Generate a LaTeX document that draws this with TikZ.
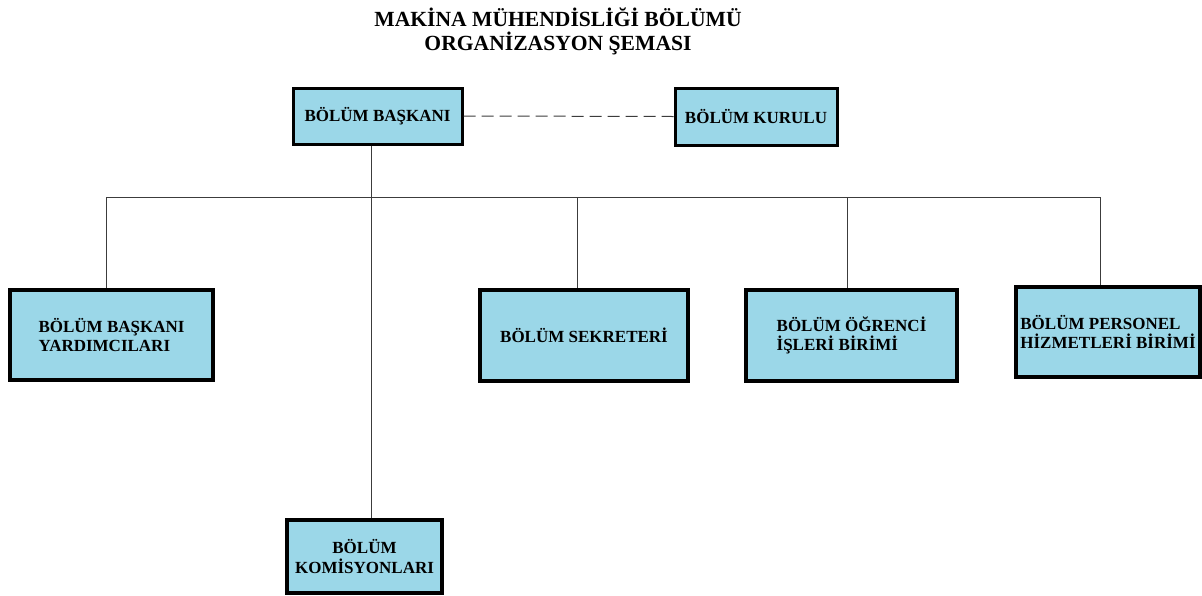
\documentclass[tikz,border=0pt]{standalone}
\usepackage{fontspec}
\setmainfont{Liberation Serif}
\usepackage{xcolor}
\definecolor{kutumavi}{RGB}{155,215,232}
\definecolor{cizgi}{RGB}{60,60,60}
\tikzset{
	birim/.style={draw=black,fill=kutumavi,line width=2pt,inner sep=0pt,font=\fontsize{8.5}{9.6}\selectfont\bfseries,align=left},
	ustbirim/.style={birim,line width=1.5pt},
	hat/.style={draw=cizgi,line width=0.5pt}
}
\begin{document}
\begin{tikzpicture}[x=0.5pt,y=-0.5pt]
			\useasboundingbox[fill=white] (0,0) rectangle (1202,595);
			\node[font=\fontsize{10.8}{12}\selectfont\bfseries,align=center] (baslik) at (558,31)
			{MAKİNA MÜHENDİSLİĞİ BÖLÜMÜ\\ORGANİZASYON ŞEMASI};
			\node[ustbirim,minimum width=84.5pt,minimum height=28pt] (baskan) at (377.5,116) {BÖLÜM BAŞKANI};
			\node[ustbirim,minimum width=81pt,minimum height=28.5pt] (kurul) at (756,116.5) {BÖLÜM KURULU};
			\node[birim,minimum width=101.5pt,minimum height=45pt] (yard) at (111.5,335) {BÖLÜM BAŞKANI\\YARDIMCILARI};
			\node[birim,minimum width=104pt,minimum height=45.5pt] (sekr) at (584,335.5) {BÖLÜM SEKRETERİ};
			\node[birim,minimum width=105.5pt,minimum height=45.5pt] (ogr) at (851.5,335.5) {BÖLÜM ÖĞRENCİ\\İŞLERİ BİRİMİ};
			\node[birim,minimum width=92pt,minimum height=45pt] (pers) at (1108,332) {BÖLÜM PERSONEL\\HİZMETLERİ BİRİMİ};
			\node[birim,align=center,minimum width=77.5pt,minimum height=36.5pt] (kom) at (364.5,556.5) {BÖLÜM\\KOMİSYONLARI};
			\coordinate (govde) at (371,197);
			\coordinate (b1) at (106,197);
			\coordinate (b2) at (577,197);
			\coordinate (b3) at (847,197);
			\coordinate (b4) at (1100,197);
			\draw[hat,dash pattern=on 6pt off 3pt] (baskan.east) -- (kurul.west);
			\draw[hat] (govde |- baskan.south) -- (govde |- kom.north);
			\draw[hat] (b1) -- (b4);
			\draw[hat] (b1) -- (b1 |- yard.north);
			\draw[hat] (b2) -- (b2 |- sekr.north);
			\draw[hat] (b3) -- (b3 |- ogr.north);
			\draw[hat] (b4) -- (b4 |- pers.north);
		\end{tikzpicture}
\end{document}
